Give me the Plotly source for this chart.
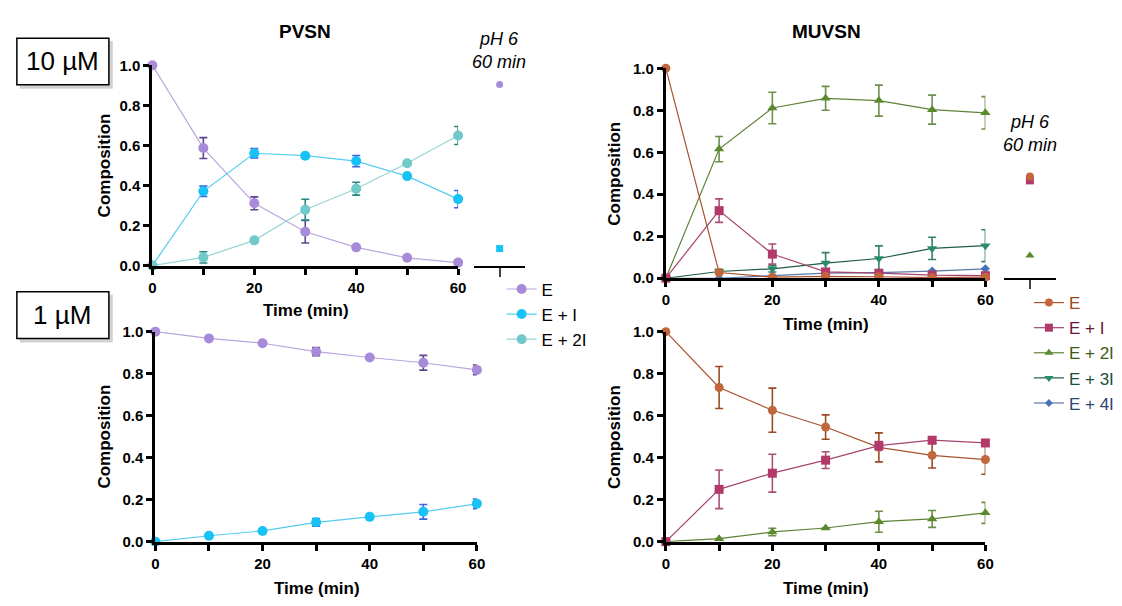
import plotly.graph_objects as go

W, H = 1122, 606
FONT = "Liberation Sans, Arial, sans-serif"

# ---------------- data ----------------
t = [0, 10, 20, 30, 40, 50, 60]
x_ticks = [0, 10, 20, 30, 40, 50, 60]
x_ticktext = ["0", "", "20", "", "40", "", "60"]
y_ticks = [0, 0.2, 0.4, 0.6, 0.8, 1.0]
y_ticktext = ["0.0", "0.2", "0.4", "0.6", "0.8", "1.0"]

# PVSN 10 uM
pv10_E = [1.0, 0.587, 0.311, 0.169, 0.091, 0.039, 0.015]
pv10_E_err = [0, 0.052, 0.032, 0.056, 0, 0, 0]
pv10_EI = [0.0, 0.371, 0.561, 0.549, 0.522, 0.447, 0.332]
pv10_EI_err = [0, 0.026, 0.023, 0, 0.028, 0, 0.043]
pv10_E2I = [0.0, 0.041, 0.126, 0.279, 0.384, 0.511, 0.650]
pv10_E2I_err = [0, 0.028, 0, 0.052, 0.032, 0, 0.045]

# PVSN 1 uM
pv1_E = [1.0, 0.968, 0.945, 0.905, 0.877, 0.852, 0.818]
pv1_E_err = [0, 0, 0, 0.019, 0, 0.035, 0.023]
pv1_EI = [0.0, 0.028, 0.051, 0.092, 0.118, 0.142, 0.180]
pv1_EI_err = [0, 0, 0, 0.018, 0, 0.035, 0.023]

# PVSN pH 6, 60 min
pv_ph6_E = [0.905]
pv_ph6_EI = [0.085]

# MUVSN 10 uM
mu10_E = [1.0, 0.027, 0.005, 0.009, 0.007, 0.003, 0.005]
mu10_EI = [0.0, 0.322, 0.115, 0.030, 0.024, 0.015, 0.012]
mu10_EI_err = [0, 0.056, 0.048, 0, 0, 0, 0]
mu10_E2I = [0.0, 0.615, 0.811, 0.857, 0.846, 0.803, 0.788]
mu10_E2I_err = [0, 0.060, 0.075, 0.057, 0.074, 0.069, 0.077]
mu10_E3I = [0.0, 0.032, 0.045, 0.072, 0.094, 0.142, 0.155]
mu10_E3I_err = [0, 0.010, 0.015, 0.050, 0.060, 0.053, 0.076]
mu10_E4I = [0.0, 0.0, 0.012, 0.024, 0.027, 0.034, 0.045]

# MUVSN 1 uM
mu1_E = [1.0, 0.734, 0.626, 0.546, 0.449, 0.411, 0.391]
mu1_E_err = [0, 0.100, 0.105, 0.058, 0.069, 0.060, 0.070]
mu1_EI = [0.0, 0.249, 0.326, 0.388, 0.457, 0.483, 0.470]
mu1_EI_err = [0, 0.092, 0.090, 0.040, 0.020, 0.015, 0.010]
mu1_E2I = [0.0, 0.014, 0.046, 0.065, 0.095, 0.108, 0.137]
mu1_E2I_err = [0, 0, 0.018, 0, 0.050, 0.040, 0.050]

# MUVSN pH 6, 60 min
mu_ph6_E = [0.484]
mu_ph6_EI = [0.466]
mu_ph6_E2I = [0.108]

# ---------------- styles ----------------
PV = {
    "E": dict(m="#A88BD8", l="#B9A5E0", e="#5E4690"),
    "EI": dict(m="#19C2F6", l="#55CDF2", e="#3E63E6"),
    "E2I": dict(m="#72C9C9", l="#95D6D6", e="#2A8585"),
}
MU = {
    "E": dict(m="#C2663B", l="#A8532E", e="#9C4A25", s="circle", t="#9A4420"),
    "EI": dict(m="#B23A6A", l="#A64470", e="#A85078", s="square", t="#6A1438"),
    "E2I": dict(m="#5B8A2C", l="#5E8238", e="#6E8E4C", s="triangle-up", t="#3E5A18"),
    "E3I": dict(m="#2A8A6C", l="#1F5C46", e="#3A8068", s="triangle-down", t="#1A5040"),
    "E4I": dict(m="#4672B8", l="#5B78A8", e="#4672B8", s="diamond", t="#2E4470"),
}


def px_x(a, b):
    return [a / W, b / W]


def px_y(top, bottom):
    return [1 - bottom / H, 1 - top / H]


fig = go.Figure()


def add(x, y, err, st, xa, ya, name=None, legend=None, symbol="circle",
        size=10, mode="lines+markers", showlegend=False):
    tr = dict(
        x=x, y=y, mode=mode, xaxis=xa, yaxis=ya, cliponaxis=False,
        marker=dict(color=st["m"], size=size, symbol=symbol, line=dict(width=0)),
        line=dict(color=st["l"], width=1.2),
        name=name if name else "", showlegend=showlegend,
    )
    if err is not None:
        tr["error_y"] = dict(type="data", array=err, color=st["e"], thickness=1.6, width=4)
    if legend:
        tr["legend"] = legend
    fig.add_trace(go.Scatter(**tr))


# PVSN 10 uM (legend 1)
add(t, pv10_E, pv10_E_err, PV["E"], "x", "y", "E", "legend", showlegend=True)
add(t, pv10_EI, pv10_EI_err, PV["EI"], "x", "y", "E + I", "legend", showlegend=True)
add(t, pv10_E2I, pv10_E2I_err, PV["E2I"], "x", "y", "E + 2I", "legend", showlegend=True)
# PVSN pH6
add([1], pv_ph6_E, None, PV["E"], "x5", "y5", mode="markers", size=7)
add([1], pv_ph6_EI, None, PV["EI"], "x5", "y5", mode="markers", size=7, symbol="square")
# PVSN 1 uM
add(t, pv1_E, pv1_E_err, PV["E"], "x3", "y3")
add(t, pv1_EI, pv1_EI_err, PV["EI"], "x3", "y3")

# MUVSN 10 uM (legend 2)
mu_names = {"E": "E", "EI": "E + I", "E2I": "E + 2I", "E3I": "E + 3I", "E4I": "E + 4I"}
mu10 = {"E": (mu10_E, None), "EI": (mu10_EI, mu10_EI_err), "E2I": (mu10_E2I, mu10_E2I_err),
        "E3I": (mu10_E3I, mu10_E3I_err), "E4I": (mu10_E4I, None)}
order_draw = ["E4I", "E3I", "E2I", "EI", "E"]
sizes = {"E": 9, "EI": 9, "E2I": 9, "E3I": 9, "E4I": 7}
for k in order_draw:
    y, e = mu10[k]
    add(t, y, e, MU[k], "x2", "y2", symbol=MU[k]["s"], size=sizes[k])
# MUVSN pH6
add([1], mu_ph6_E2I, None, MU["E2I"], "x6", "y6", mode="markers", size=8, symbol="triangle-up")
add([1], mu_ph6_EI, None, MU["EI"], "x6", "y6", mode="markers", size=8, symbol="square")
add([1], mu_ph6_E, None, MU["E"], "x6", "y6", mode="markers", size=8)
# MUVSN 1 uM
add(t, mu1_E2I, mu1_E2I_err, MU["E2I"], "x4", "y4", symbol="triangle-up", size=9)
add(t, mu1_E, mu1_E_err, MU["E"], "x4", "y4", size=9)
add(t, mu1_EI, mu1_EI_err, MU["EI"], "x4", "y4", symbol="square", size=9)

# legend-only entries for MUVSN
for k in ["E", "EI", "E2I", "E3I", "E4I"]:
    st = MU[k]
    fig.add_trace(go.Scatter(
        x=[None], y=[None], xaxis="x2", yaxis="y2", mode="lines+markers",
        marker=dict(color=st["m"], size=sizes[k] - 1, symbol=st["s"]),
        line=dict(color=st["l"], width=1.2),
        name=f"<span style='color:{st['t']}'>{mu_names[k]}</span>",
        legend="legend2", showlegend=True,
    ))

tickfont = dict(family=FONT, size=15, color="black", weight="bold")
xcommon = dict(range=[0, 60], showline=True, linewidth=3, linecolor="black",
               ticks="outside", ticklen=6, tickwidth=2.5, tickcolor="black",
               tickvals=x_ticks, ticktext=x_ticktext, showgrid=False,
               zeroline=False, tickfont=tickfont, fixedrange=True)
ycommon = dict(range=[0, 1], showline=True, linewidth=3, linecolor="black",
               ticks="outside", ticklen=6, tickwidth=2.5, tickcolor="black",
               tickvals=y_ticks, ticktext=y_ticktext, showgrid=False,
               zeroline=False, tickfont=tickfont, fixedrange=True)

panels = {
    1: (px_x(150, 459), px_y(58, 264)),
    2: (px_x(669, 992), px_y(61, 277)),
    3: (px_x(153, 478), px_y(332, 548)),
    4: (px_x(669, 992), px_y(332, 548)),
}
layout = {}
for i, (dx, dy) in panels.items():
    sx = "" if i == 1 else str(i)
    layout[f"xaxis{sx}"] = dict(xcommon, domain=dx, anchor=f"y{sx}")
    layout[f"yaxis{sx}"] = dict(ycommon, domain=dy, anchor=f"x{sx}")

side = {5: (px_x(475, 527), px_y(58, 264)), 6: (px_x(1011, 1063), px_y(61, 277))}
for i, (dx, dy) in side.items():
    layout[f"xaxis{i}"] = dict(domain=dx, anchor=f"y{i}", range=[0, 2], showline=True,
                               linewidth=2, linecolor="black", ticks="outside",
                               ticklen=9, tickwidth=2, tickvals=[1], ticktext=[""],
                               showgrid=False, zeroline=False, fixedrange=True)
    layout[f"yaxis{i}"] = dict(domain=dy, anchor=f"x{i}", range=[0, 1], visible=False,
                               fixedrange=True)

ann = []


def A(x, y, text, size, bold=False, italic=False, angle=0, color="black"):
    f = dict(family=FONT, size=size, color=color)
    if bold:
        f["weight"] = "bold"
    if italic:
        f["style"] = "italic"
    ann.append(dict(xref="paper", yref="paper", x=x / W, y=1 - y / H, text=text,
                    showarrow=False, font=f, textangle=angle,
                    xanchor="center", yanchor="middle"))


A(304, 23, "PVSN", 19, bold=True)
A(831, 23, "MUVSN", 19, bold=True)
for (x, y) in [(102, 161), (617, 169), (102, 440), (617, 440)]:
    A(x, y, "Composition", 17, bold=True, angle=-90)
for (x, y) in [(305, 310), (831, 325), (316, 596), (831, 596)]:
    A(x, y, "Time (min)", 17, bold=True)
A(500, 31, "pH 6", 18, italic=True)
A(500, 55, "60 min", 18, italic=True)
A(1037, 116, "pH 6", 18, italic=True)
A(1037, 140, "60 min", 18, italic=True)
A(59, 54, "10 µM", 26)
A(59, 315, "1 µM", 26)

shapes = []
for (x0, y0, x1, y1) in [(13, 30, 106, 78), (13, 291, 106, 339)]:
    shapes.append(dict(type="rect", xref="paper", yref="paper",
                       x0=(x0 + 3) / W, x1=(x1 + 4) / W, y0=1 - (y1 + 4) / H, y1=1 - (y0 + 3) / H,
                       fillcolor="rgba(0,0,0,0.18)", line=dict(width=0), layer="below"))
    shapes.append(dict(type="rect", xref="paper", yref="paper",
                       x0=x0 / W, x1=x1 / W, y0=1 - y1 / H, y1=1 - y0 / H,
                       fillcolor="white", line=dict(width=1.5, color="black"), layer="below"))

fig.update_layout(
    width=W, height=H, margin=dict(l=0, r=0, t=0, b=0),
    paper_bgcolor="white", plot_bgcolor="rgba(0,0,0,0)",
    font=dict(family=FONT, color="black"),
    annotations=ann, shapes=shapes,
    legend=dict(x=503 / W, y=1 - 270 / H, xanchor="left", yanchor="top",
                font=dict(family=FONT, size=17, color="black"),
                bgcolor="rgba(0,0,0,0)", itemwidth=30, traceorder="normal"),
    legend2=dict(x=1036 / W, y=1 - 284 / H, xanchor="left", yanchor="top",
                 font=dict(family=FONT, size=17, color="black"),
                 bgcolor="rgba(0,0,0,0)", itemwidth=30, traceorder="normal"),
    **layout,
)

fig.write_html("out.html")
